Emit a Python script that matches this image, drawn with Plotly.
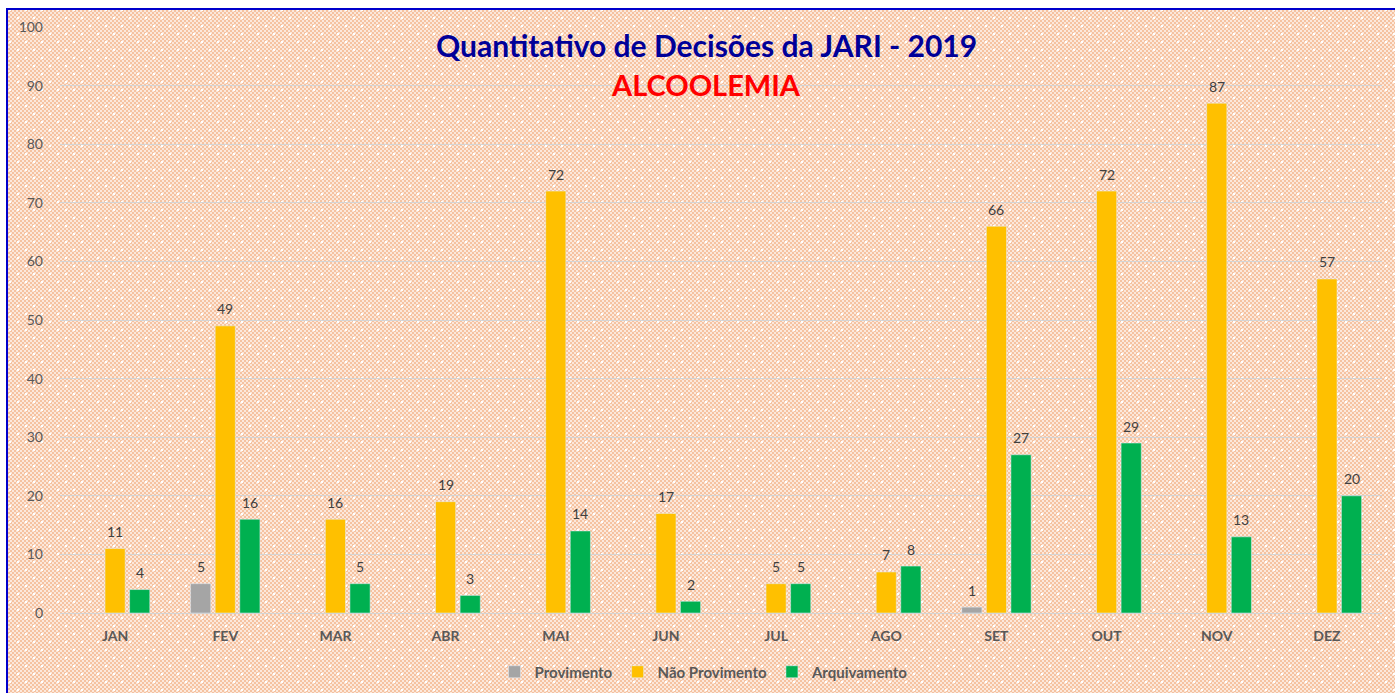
import base64
import plotly.graph_objects as go

months = ["JAN", "FEV", "MAR", "ABR", "MAI", "JUN", "JUL", "AGO", "SET", "OUT", "NOV", "DEZ"]
provimento = [None, 5, None, None, None, None, None, None, 1, None, None, None]
nao_provimento = [11, 49, 16, 19, 72, 17, 5, 7, 66, 72, 87, 57]
arquivamento = [4, 16, 5, 3, 14, 2, 5, 8, 27, 29, 13, 20]
y_ticks = [0, 10, 20, 30, 40, 50, 60, 70, 80, 90, 100]

series = [("Provimento", provimento, "#A5A5A5"),
          ("Não Provimento", nao_provimento, "#FFC000"),
          ("Arquivamento", arquivamento, "#00B050")]

W, H = 1395, 693
L, R, T, B = 60, 13, 27, 80
pw, ph = W - L - R, H - T - B
BARGAP, GROUPGAP = 0.33, 0.18

svg = f'''<svg xmlns="http://www.w3.org/2000/svg" width="{W}" height="{H}" viewBox="0 0 {W} {H}">
<defs>
<pattern id="c" width="4" height="4" patternUnits="userSpaceOnUse">
<rect width="4" height="4" fill="#FCE8DB"/>
<rect x="0" y="0" width="2" height="2" fill="#F5C2A0"/>
<rect x="2" y="2" width="2" height="2" fill="#F5C2A0"/>
</pattern>
<pattern id="d" width="16" height="16" patternUnits="userSpaceOnUse">
<rect x="1" y="1" width="2" height="2" fill="#FFFFFF"/>
<rect x="9" y="9" width="2" height="2" fill="#FFFFFF"/>
</pattern>
</defs>
<rect width="{W}" height="{H}" fill="#FFFFFF"/>
<rect x="6" y="8" width="{W-6}" height="{H-8}" fill="url(#c)"/>
<rect x="6" y="8" width="{W-6}" height="{H-8}" fill="url(#d)"/>
<rect x="6" y="8" width="2" height="{H-8}" fill="#0000CC"/>
<rect x="6" y="8" width="{W-6}" height="2" fill="#0000CC"/>
</svg>'''
src = "data:image/svg+xml;base64," + base64.b64encode(svg.encode()).decode()

FONT = "Lato, Open Sans, sans-serif"
fig = go.Figure()
for name, vals, col in series:
    fig.add_trace(go.Bar(x=months, y=vals, name=name, marker_color=col))

# data labels placed from the axis scales, shifted to each bar's slot in its group
slot = pw / len(months) * (1 - BARGAP) / len(series)
annotations = []
for i, (name, vals, col) in enumerate(series):
    for m, v in zip(months, vals):
        if v is None:
            continue
        annotations.append(dict(
            x=m, y=v, xref="x", yref="y", text=str(v), showarrow=False,
            xanchor="center", yanchor="middle",
            xshift=(i - (len(series) - 1) / 2) * slot, yshift=17,
            font=dict(family=FONT, size=14, color="#404040")))

annotations += [
    dict(text="<b>Quantitativo de Decisões da JARI - 2019</b>", xref="paper", yref="paper",
         x=(706 - L) / pw, y=(T + ph - 45) / ph, xanchor="center", yanchor="middle",
         showarrow=False, font=dict(size=30, color="#000099", family=FONT)),
    dict(text="<b>ALCOOLEMIA</b>", xref="paper", yref="paper",
         x=(706 - L) / pw, y=(T + ph - 84) / ph, xanchor="center", yanchor="middle",
         showarrow=False, font=dict(size=29, color="#FF0000", family=FONT)),
]

fig.update_layout(
    width=W, height=H,
    margin=dict(l=L, r=R, t=T, b=B, autoexpand=False),
    paper_bgcolor="#F8D5BF",
    plot_bgcolor="rgba(0,0,0,0)",
    barmode="group", bargap=BARGAP, bargroupgap=GROUPGAP,
    font=dict(family=FONT, color="#595959"),
    showlegend=True,
    legend=dict(orientation="h", x=(704 - L) / pw, xanchor="center",
                y=(T + ph - 672) / ph, yanchor="middle",
                font=dict(size=15, color="#595959", family=FONT, weight="bold"),
                bgcolor="rgba(0,0,0,0)", itemwidth=30, traceorder="normal"),
    images=[dict(source=src, xref="paper", yref="paper",
                 x=-L / pw, y=1 + T / ph, sizex=W / pw, sizey=H / ph,
                 xanchor="left", yanchor="top", sizing="stretch", layer="below")],
    annotations=annotations,
)
fig.update_yaxes(range=[0, 100], tickvals=y_ticks, showgrid=True, gridcolor="#D4D4D4",
                 gridwidth=1, zeroline=False, showline=False, automargin=False,
                 tickfont=dict(size=14, color="#595959"), ticklabelstandoff=16)
fig.update_xaxes(showline=True, linecolor="#D4D4D4", linewidth=1, showgrid=False,
                 automargin=False,
                 tickfont=dict(size=14, color="#595959", weight="bold"), ticklabelstandoff=10)

fig.write_html("out.html", config={"displayModeBar": False},
               post_script="document.body.style.margin='0';document.body.style.overflow='hidden';")
